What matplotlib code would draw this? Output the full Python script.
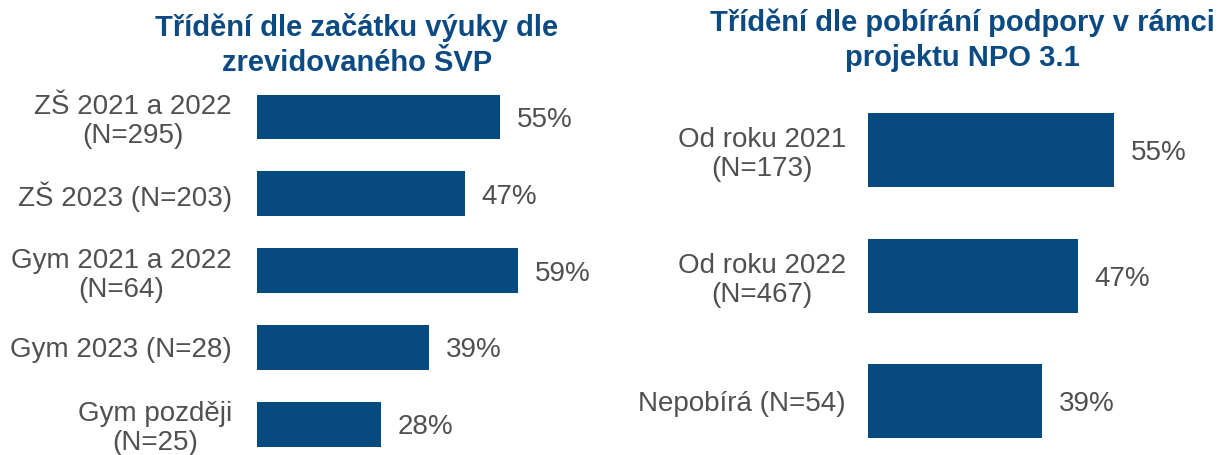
import matplotlib.pyplot as plt

plt.rcParams['font.family'] = ['Liberation Sans', 'DejaVu Sans']

left_title = "Třídění dle začátku výuky dle\nzrevidovaného ŠVP"
left_labels = ["ZŠ 2021 a 2022\n(N=295)", "ZŠ 2023 (N=203)", "Gym 2021 a 2022\n(N=64)",
               "Gym 2023 (N=28)", "Gym později\n(N=25)"]
left_values = [55, 47, 59, 39, 28]

right_title = "Třídění dle pobírání podpory v rámci\nprojektu NPO 3.1"
right_labels = ["Od roku 2021\n(N=173)", "Od roku 2022\n(N=467)", "Nepobírá (N=54)"]
right_values = [55, 47, 39]

bar_color = '#074A80'
title_color = '#0B4A82'
text_color = '#505050'

W, H = 1229, 455
fig = plt.figure(figsize=(W / 100, H / 100), dpi=100)


def panel(x0, px_per_pct, ylim, labels, values, bar_h, pad):
    xmax = 80
    ax = fig.add_axes([x0 / W, 0, xmax * px_per_pct / W, 1 - 80 / H])
    ys = list(range(len(values)))
    ax.barh(ys, values, height=bar_h, color=bar_color)
    ax.set_xlim(0, xmax)
    ax.set_ylim(*ylim)
    ax.set_yticks(ys)
    ax.set_yticklabels(labels, fontsize=20, color=text_color,
                       multialignment='center', linespacing=1.15)
    ax.tick_params(axis='y', length=0, pad=pad)
    ax.set_xticks([])
    for s in ax.spines.values():
        s.set_visible(False)
    for y, v in zip(ys, values):
        ax.annotate(f"{v}%", (v, y), xytext=(12, 0), textcoords='offset points',
                    fontsize=20, color=text_color, va='center_baseline', ha='left')
    return ax


panel(257, 4.42, (4.40, -0.48), left_labels, left_values, 0.58, 18)
panel(868, 4.47, (2.43, -0.558), right_labels, right_values, 0.59, 16)

fig.text(357 / W, 1 - 45 / H, left_title, ha='center', va='center', fontsize=21,
         fontweight='bold', color=title_color, linespacing=1.3)
fig.text(962 / W, 1 - 40 / H, right_title, ha='center', va='center', fontsize=21,
         fontweight='bold', color=title_color, linespacing=1.3)

fig.savefig('out.png', dpi=100)
